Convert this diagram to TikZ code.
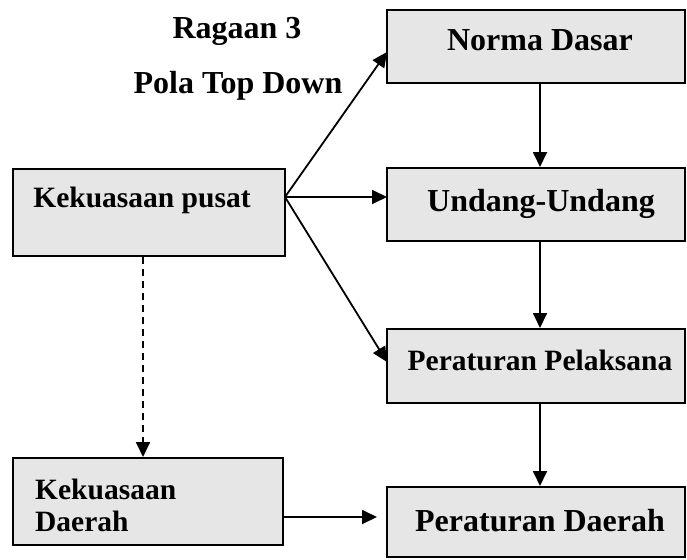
\documentclass[tikz,border=0pt]{standalone}
\usepackage{fontspec}
\setmainfont{Liberation Serif}
\usepackage{xcolor}
\usepackage{tikz}
\usetikzlibrary{arrows.meta}

\definecolor{boxgray}{HTML}{E6E6E6}

\tikzset{
  box/.style={draw, line width=2pt, fill=boxgray, inner sep=0pt},
  bigtxt/.style={font=\bfseries\fontsize{32}{34}\selectfont, inner sep=0pt},
  smalltxt/.style={font=\bfseries\fontsize{29.5}{32}\selectfont, inner sep=0pt},
  arr/.style={line width=1.8pt, -{Triangle[length=15pt,width=14pt]}},
}

\begin{document}
\begin{tikzpicture}[x=1pt, y=-1pt]
    \useasboundingbox (0,0) rectangle (687,559);

    % Draw boxes
    \node[box, minimum width=298, minimum height=73] (norma) at (536,46.5) {};
    \node[box, minimum width=298, minimum height=73] (undang) at (536,204.5) {};
    \node[box, minimum width=298, minimum height=74] (pelaksana) at (536,366) {};
    \node[box, minimum width=298, minimum height=70] (perda) at (536,522) {};
    \node[box, minimum width=272, minimum height=87] (pusat) at (149,212.5) {};
    \node[box, minimum width=270, minimum height=87] (kdaerah) at (148,501.5) {};

    % Draw box texts
    \node[bigtxt] (normatxt) at (540,40) {Norma Dasar};
    \node[bigtxt] (undangtxt) at (541,204) {Undang-Undang};
    \node[smalltxt] (pelaksanatxt) at (540,360) {Peraturan Pelaksana};
    \node[bigtxt] (perdatxt) at (540,521) {Peraturan Daerah};
    \node[smalltxt] (pusattxt) at (142,200) {Kekuasaan pusat};
    \node[smalltxt, align=left, anchor=west] (kdaerahtxt) at (35,505) {Kekuasaan\\Daerah};

    % Draw titles
    \node[bigtxt] (judul) at (237,31) {Ragaan 3};
    \node[bigtxt] (pola) at (238,86) {Pola Top Down};

    % Draw connector ends
    \coordinate (fan) at (285,197);
    \coordinate (tonorma) at (387,52);
    \coordinate (toundang) at (387,197);
    \coordinate (topelaksana) at (387,362);
    \coordinate (toperda) at (377,517);
    \coordinate (fromkd) at (283,517);

    % Draw arrows
    \draw[arr] (fan) -- (tonorma);
    \draw[arr] (fan) -- (toundang);
    \draw[arr] (fan) -- (topelaksana);
    \draw[arr] (norma.south -| 540,0) -- (undang.north -| 540,0);
    \draw[arr] (undang.south -| 540,0) -- (pelaksana.north -| 540,0);
    \draw[arr] (pelaksana.south -| 540,0) -- (perda.north -| 540,0);
    \draw[arr] (fromkd) -- (toperda);
    \draw[arr, dash pattern=on 7pt off 5pt] (pusat.south -| 143,0) -- (kdaerah.north -| 143,0);
\end{tikzpicture}
\end{document}
